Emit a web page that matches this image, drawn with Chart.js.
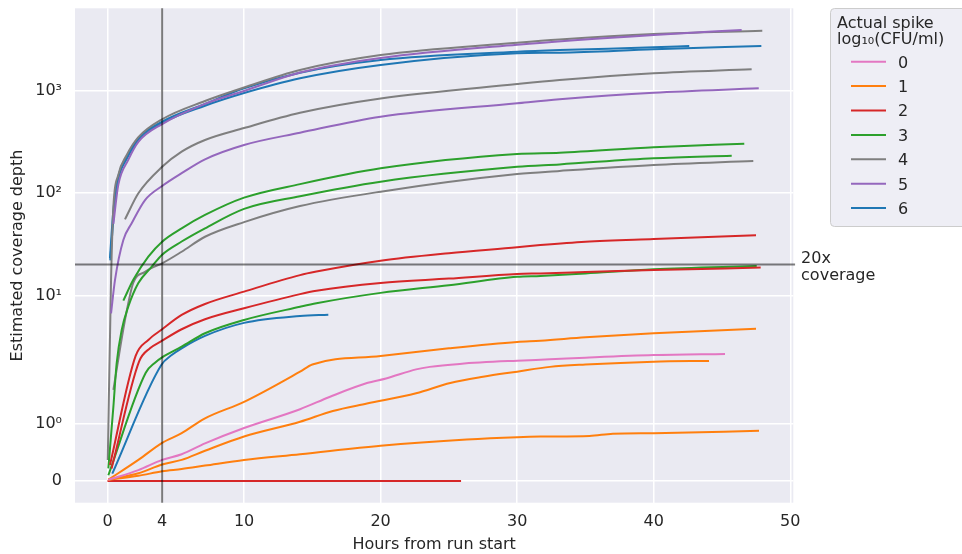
<!DOCTYPE html>
<html>
<head>
<meta charset="utf-8">
<script src="https://cdn.jsdelivr.net/npm/chart.js@4.4.1/dist/chart.umd.min.js"></script>
<style>
  html, body { margin: 0; padding: 0; background: #ffffff; }
  canvas { display: block; }
</style>
</head>
<body>
<canvas id="coverage" width="962" height="554"></canvas>
<script>
// values: hours from run start vs estimated coverage depth

const spikeLevels = ['0', '1', '2', '3', '4', '5', '6'];

const xTickValues = [0, 4, 10, 20, 30, 40, 50];
const yTickValues = [0, 1, 10, 100, 1000];
const yTickLabels = ['0', '10\u2070', '10\u00b9', '10\u00b2', '10\u00b3'];

const coverageTarget = 20;   // horizontal "20x coverage" line
const checkHours = 4;        // vertical line

// spike 0
const hoursS0a = [0.05, 2.26, 4, 5.43, 7.14, 10, 14.1, 16.3, 19.0, 20.4, 22.6, 23.6, 25.8, 30, 32.4, 35, 40, 45.22];
const depthS0a = [0.02, 0.19, 0.37, 0.47, 0.66, 0.93, 1.26, 1.48, 1.72, 1.80, 1.96, 2.01, 2.15, 2.31, 2.38, 2.47, 2.62, 2.69];

// spike 1
const hoursS1a = [0.05, 2.26, 4, 5.43, 7.14, 10, 14.1, 15.0, 20, 25, 30, 31.7, 35, 40, 47.49];
const depthS1a = [0.02, 0.37, 0.67, 0.84, 1.10, 1.39, 1.92, 2.12, 2.57, 3.05, 3.52, 3.62, 3.91, 4.28, 4.74];
const hoursS1b = [0.05, 2.26, 4, 5.43, 7.14, 10, 14.1, 16.5, 19, 22.6, 25.1, 27.5, 30, 32.4, 35, 40, 44.05];
const depthS1b = [0.02, 0.135, 0.29, 0.37, 0.53, 0.78, 1.04, 1.23, 1.36, 1.54, 1.72, 1.83, 1.92, 2.01, 2.12, 2.26, 2.30];
const hoursS1c = [0.05, 2.26, 4, 5.43, 7.14, 10, 14.1, 20, 26.3, 30, 31.7, 35.3, 37, 40, 47.71];
const depthS1c = [0.02, 0.09, 0.17, 0.21, 0.27, 0.37, 0.47, 0.62, 0.73, 0.77, 0.78, 0.79, 0.83, 0.84, 0.88];

// spike 2
const hoursS2a = [0.18, 2.06, 2.99, 4, 5.43, 7.14, 10, 14.1, 15.3, 20, 25, 30, 31.7, 35, 40, 47.49];
const depthS2a = [0.28, 2.57, 3.68, 4.68, 6.45, 8.26, 10.9, 15.8, 17.1, 21.8, 25.8, 29.5, 31.0, 33.5, 35.6, 38.6];
const hoursS2b = [0.3, 2.31, 3.11, 4, 5.43, 7.14, 10, 14.1, 15.3, 20, 25, 30, 31.7, 35, 40, 47.83];
const depthS2b = [0.22, 2.26, 3.05, 3.62, 4.68, 5.86, 7.5, 10.3, 11.1, 13.2, 14.6, 16.2, 16.4, 16.9, 17.7, 18.7];
const hoursS2c = [0, 25.89];
const depthS2c = [0, 0];

// spike 3
const hoursS3a = [1.16, 1.89, 2.99, 4, 5.43, 7.14, 10, 14.1, 20, 30, 33.1, 40, 46.63];
const depthS3a = [8.9, 14.2, 23.9, 33.5, 45.2, 61, 90, 122, 174, 240, 247, 279, 303];
const hoursS3b = [0.06, 0.43, 0.67, 1.04, 1.52, 2.26, 3.24, 4, 5.43, 7.14, 10, 14.1, 20, 30, 33.1, 40, 45.71];
const depthS3b = [0.22, 1.3, 2.18, 4.6, 7.76, 13.2, 19.1, 25, 33.6, 45.2, 70, 93, 129, 180, 190, 218, 231];
const hoursS3c = [0.06, 2.8, 3.48, 4, 5.43, 7.14, 10, 14.1, 15.3, 20, 25, 30, 31.7, 35, 40, 47.54];
const depthS3c = [0.1, 1.90, 2.21, 2.49, 3.16, 4.28, 5.77, 7.76, 8.4, 10.6, 12.6, 15.2, 15.5, 16.4, 18.0, 19.4];

// spike 4
const hoursS4a = [0.02, 0.26, 0.43, 0.79, 1.41, 2.26, 4, 7.14, 10, 14.1, 20, 30, 33.1, 40, 47.95];
const depthS4a = [0.37, 14.2, 73, 150, 235, 350, 524, 790, 1070, 1585, 2218, 2925, 3150, 3557, 3830];
const hoursS4b = [1.28, 2.26, 4, 5.43, 7.14, 10, 14.1, 20, 30, 33.1, 40, 47.17];
const depthS4b = [55.3, 99.3, 180, 253, 329, 430, 607, 837, 1156, 1265, 1472, 1610];
const hoursS4c = [0.43, 1.28, 1.89, 2.75, 3.24, 4, 5.43, 7.14, 10, 14.1, 20, 30, 33.1, 40, 47.29];
const depthS4c = [1.6, 5.77, 13.3, 17, 18.6, 20.6, 26.7, 37.4, 52, 74.6, 103, 153, 164, 187.5, 205];

// spike 5
const hoursS5a = [0.43, 0.79, 1.52, 2.26, 4, 7.14, 10, 14.1, 20, 30, 40, 46.44];
const depthS5a = [50, 120, 210, 315, 470, 740, 990, 1500, 2080, 2800, 3480, 3900];
const hoursS5b = [0.26, 0.55, 1.16, 1.77, 2.75, 4, 5.43, 7.14, 10, 14.1, 20, 30, 33.1, 40, 47.69];
const depthS5b = [6.7, 14.2, 34.8, 50.6, 85.3, 117, 156, 213, 294, 387, 555, 750, 820, 951, 1050];

// spike 6
const hoursS6a = [0.18, 0.43, 0.79, 1.41, 2.26, 4, 7.14, 10, 14.1, 20, 30, 33.1, 40, 42.6];
const depthS6a = [23.1, 68, 144, 226, 341, 496, 740, 1050, 1490, 1982, 2388, 2480, 2637, 2718];
const hoursS6b = [0.2, 0.5, 0.79, 1.41, 2.26, 4, 7.14, 10, 14.1, 20, 30, 33.1, 40, 47.88];
const depthS6b = [22, 70, 135, 215, 325, 480, 710, 944, 1315, 1774, 2306, 2340, 2522, 2718];
const hoursS6c = [0.35, 3.94, 4.7, 5.43, 7.14, 10, 14.1, 16.17];
const depthS6c = [0.13, 2.1, 2.62, 3.05, 4.03, 5.4, 6.3, 6.5];

const runs = [
    { spike: 0, hours: hoursS0a, depth: depthS0a },
    { spike: 1, hours: hoursS1a, depth: depthS1a },
    { spike: 1, hours: hoursS1b, depth: depthS1b },
    { spike: 1, hours: hoursS1c, depth: depthS1c },
    { spike: 2, hours: hoursS2a, depth: depthS2a },
    { spike: 2, hours: hoursS2b, depth: depthS2b },
    { spike: 2, hours: hoursS2c, depth: depthS2c },
    { spike: 3, hours: hoursS3a, depth: depthS3a },
    { spike: 3, hours: hoursS3b, depth: depthS3b },
    { spike: 3, hours: hoursS3c, depth: depthS3c },
    { spike: 5, hours: hoursS5a, depth: depthS5a },
    { spike: 5, hours: hoursS5b, depth: depthS5b },
    { spike: 4, hours: hoursS4a, depth: depthS4a },
    { spike: 4, hours: hoursS4b, depth: depthS4b },
    { spike: 4, hours: hoursS4c, depth: depthS4c },
    { spike: 6, hours: hoursS6a, depth: depthS6a },
    { spike: 6, hours: hoursS6b, depth: depthS6b },
    { spike: 6, hours: hoursS6c, depth: depthS6c }
];

const spikeColours = ['#e377c2', '#ff7f0e', '#d62728', '#2ca02c', '#7f7f7f', '#9467bd', '#1f77b4'];
const TEXT = '#262626';
const FONT = 'DejaVu Sans';

// symlog axis, linthresh 2 / linscale 1 like matplotlib
const LINTHRESH = 2;
const LINSCALE = 1 / (1 - 1 / 10);
function symlog(v) {
    if (v <= LINTHRESH) return (v / LINTHRESH) * LINSCALE;
    return LINSCALE + Math.log10(v / LINTHRESH);
}

const datasets = runs.map(run => ({
    label: spikeLevels[run.spike],
    data: run.hours.map((h, i) => ({ x: h, y: symlog(run.depth[i]) })),
    borderColor: spikeColours[run.spike],
    borderWidth: 2,
    pointRadius: 0,
    cubicInterpolationMode: 'monotone',
    fill: false
}));

const plotBackground = {
    id: 'plotBackground',
    beforeDraw(chart) {
        const { ctx, chartArea } = chart;
        ctx.save();
        ctx.fillStyle = '#ffffff';
        ctx.fillRect(0, 0, chart.width, chart.height);
        ctx.fillStyle = '#eaeaf2';
        ctx.fillRect(chartArea.left, chartArea.top, chartArea.right - chartArea.left, chartArea.bottom - chartArea.top);
        ctx.restore();
    }
};

const refLines = {
    id: 'refLines',
    afterDatasetsDraw(chart) {
        const { ctx, chartArea, scales } = chart;
        const xs = scales.x, ys = scales.y;
        ctx.save();
        ctx.strokeStyle = 'rgba(0,0,0,0.5)';
        ctx.lineWidth = 2;

        const vx = xs.getPixelForValue(checkHours);
        ctx.beginPath();
        ctx.moveTo(vx, chartArea.top);
        ctx.lineTo(vx, chartArea.bottom);
        ctx.stroke();

        const hy = ys.getPixelForValue(symlog(coverageTarget));
        const hEnd = xs.getPixelForValue(50.35);
        ctx.beginPath();
        ctx.moveTo(chartArea.left, hy);
        ctx.lineTo(hEnd, hy);
        ctx.stroke();

        ctx.fillStyle = TEXT;
        ctx.font = '16px "' + FONT + '"';
        ctx.textAlign = 'left';
        ctx.textBaseline = 'alphabetic';
        ctx.fillText('20x', hEnd + 6, hy - 2);
        ctx.fillText('coverage', hEnd + 6, hy + 15);
        ctx.restore();
    }
};

const spikeLegend = {
    id: 'spikeLegend',
    afterDraw(chart) {
        const ctx = chart.ctx;
        ctx.save();
        ctx.fillStyle = 'rgb(238,238,245)';
        ctx.strokeStyle = '#cccccc';
        ctx.lineWidth = 1;
        ctx.beginPath();
        ctx.roundRect(830.5, 8.5, 150, 218, 4);
        ctx.fill();
        ctx.stroke();

        ctx.fillStyle = TEXT;
        ctx.font = '16px "' + FONT + '"';
        ctx.textAlign = 'left';
        ctx.textBaseline = 'alphabetic';
        ctx.fillText('Actual spike', 837, 27.5);
        ctx.fillText('log\u2081\u2080(CFU/ml)', 837, 44);

        spikeLevels.forEach((lvl, i) => {
            const cy = 61.7 + i * 24.4;
            ctx.strokeStyle = spikeColours[i];
            ctx.lineWidth = 2;
            ctx.beginPath();
            ctx.moveTo(851, cy);
            ctx.lineTo(886, cy);
            ctx.stroke();
            ctx.fillStyle = TEXT;
            ctx.fillText(lvl, 898, cy + 5.8);
        });
        ctx.restore();
    }
};

new Chart(document.getElementById('coverage'), {
    type: 'line',
    data: { datasets: datasets },
    options: {
        responsive: false,
        animation: false,
        layout: { padding: { left: 0, right: 168.7, top: 8.3, bottom: 0 } },
        plugins: {
            legend: { display: false },
            tooltip: { enabled: false }
        },
        scales: {
            x: {
                type: 'linear',
                min: -2.38,
                max: 50.22,
                afterBuildTicks: axis => { axis.ticks = xTickValues.map(v => ({ value: v })); },
                afterFit: axis => { axis.height = 51.3; },
                grid: { color: '#ffffff', lineWidth: 1.5, drawTicks: false },
                border: { display: false },
                ticks: {
                    autoSkip: false,
                    maxRotation: 0,
                    padding: 10,
                    color: TEXT,
                    font: { family: FONT, size: 16 },
                    callback: v => String(v)
                },
                title: {
                    display: true,
                    text: 'Hours from run start',
                    color: TEXT,
                    font: { family: FONT, size: 16 },
                    padding: { top: 0, bottom: 0 }
                }
            },
            y: {
                type: 'linear',
                min: -0.212,
                max: 4.612,
                afterBuildTicks: axis => { axis.ticks = yTickValues.map(v => ({ value: symlog(v) })); },
                afterFit: axis => { axis.width = 75; },
                // invisible tick marks give the label gap without padding the chart top
                grid: { color: '#ffffff', lineWidth: 1.5, drawTicks: true, tickLength: 13, tickColor: 'rgba(0,0,0,0)' },
                border: { display: false },
                ticks: {
                    padding: 0,
                    color: TEXT,
                    font: { family: FONT, size: 16, lineHeight: 1 },
                    callback: (v, i) => yTickLabels[i]
                },
                title: {
                    display: true,
                    text: 'Estimated coverage depth',
                    color: TEXT,
                    font: { family: FONT, size: 16 },
                    padding: { top: 8, bottom: 0 }
                }
            }
        }
    },
    plugins: [plotBackground, refLines, spikeLegend]
});
</script>
</body>
</html>
